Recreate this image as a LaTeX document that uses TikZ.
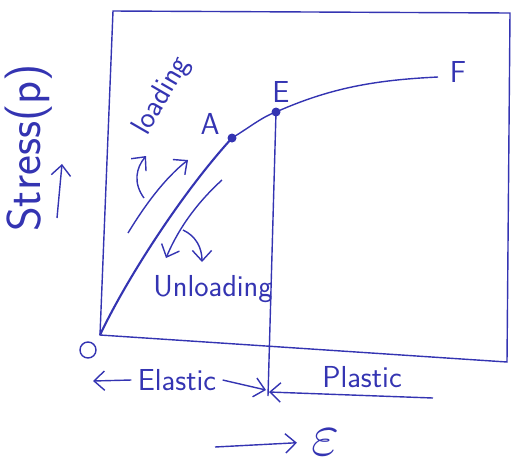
\documentclass[tikz,border=0pt]{standalone}
\usepackage{tikz}
\usetikzlibrary{arrows.meta,positioning,calc}
\definecolor{pen}{RGB}{52,52,178}

\begin{document}
\begin{tikzpicture}[x=0.02cm, y=-0.02cm, line width=0.8pt, >={Straight Barb[length=6pt,width=11pt]},
        every node/.style={font=\LARGE\sffamily, text=pen}]
        \useasboundingbox (0,0) rectangle (514,468);
        \tikzset{dot/.style={circle, fill=pen, inner sep=0pt, minimum size=0.18cm}}

        % Frame
        \coordinate (tl) at (113,11);
        \coordinate (tr) at (510,13);
        \coordinate (br) at (507,362);
        \coordinate (O) at (100,335);
        \draw[pen] (O) -- (tl) -- (tr) -- (br) -- cycle;
        \node[draw=pen, circle, minimum size=0.32cm, inner sep=0pt] (origin) at (88,350) {};

        % Curve O - A - E - F
        \node[dot] (A) at (232,138) {};
        \node[dot] (E) at (276,112) {};
        \coordinate (F) at (438,77);
        \draw[pen, line width=1.2pt] (O) .. controls (125,282) and (180,195) .. (A.center);
        \draw[pen] (A.center) .. controls (250,127) and (262,117) .. (E.center)
            .. controls (330,88) and (375,80) .. (F);
        \node (Alab) at (210,124) {A};
        \node (Elab) at (281,92) {E};
        \node (Flab) at (458,72) {F};

        % Limit line from E
        \coordinate (Ebot) at (268,396);
        \draw[pen] (E.center) -- (Ebot);

        % Loading
        \node[rotate=60, inner sep=0pt] (load) at (162,96) {loading};
        \coordinate (l1) at (128,233);
        \coordinate (l2) at (188,160);
        \draw[pen, ->] (l1) .. controls (145,205) and (165,178) .. (l2);
        \coordinate (l3) at (144,198);
        \coordinate (l4) at (146,156);
        \draw[pen, ->] (l3) .. controls (133,183) and (136,168) .. (l4);

        % Unloading
        \coordinate (u1) at (222,180);
        \coordinate (u2) at (166,258);
        \draw[pen, ->] (u1) .. controls (200,200) and (180,225) .. (u2);
        \coordinate (u3) at (183,230);
        \coordinate (u4) at (202,262);
        \draw[pen, ->] (u3) .. controls (196,236) and (202,248) .. (u4);
        \node (unload) at (213,289) {Unloading};

        % Stress axis
        \node[font=\fontsize{27}{32}\selectfont\sffamily, rotate=90] (stress) at (29,148) {Stress(p)};
        \coordinate (s1) at (57,218);
        \coordinate (s2) at (62,164);
        \draw[pen, ->] (s1) -- (s2);

        % Elastic / Plastic ranges
        \node (elastic) at (177,380) {Elastic};
        \coordinate (elL) at (93,381);
        \coordinate (elR) at (266,390);
        \draw[pen, ->] (elastic.west) -- (elL);
        \draw[pen, ->] (elastic.east) -- (elR);
        \node (plastic) at (362,377) {Plastic};
        \coordinate (plL) at (269,392);
        \coordinate (plR) at (433,398);
        \draw[pen, ->] (plR) -- (plL);

        % Strain axis
        \node[font=\Huge, scale=1.4, inner sep=0pt] (eps) at (326,442) {$\varepsilon$};
        \coordinate (e1) at (215,447);
        \draw[pen, ->, shorten >=8pt] (e1) -- (eps.west);
\end{tikzpicture}
\end{document}
